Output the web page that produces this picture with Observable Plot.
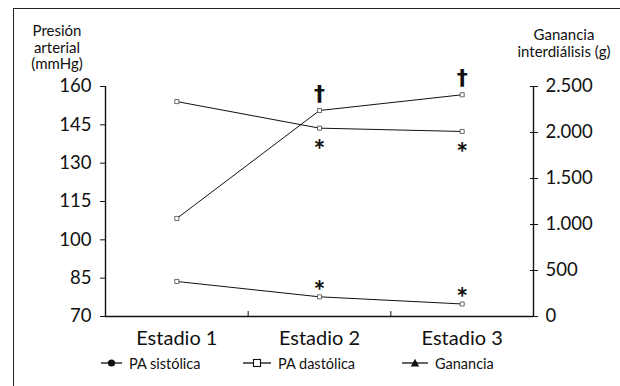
<!DOCTYPE html>
<html><head><meta charset="utf-8">
<script src="https://cdn.jsdelivr.net/npm/d3@7"></script>
<script src="https://cdn.jsdelivr.net/npm/@observablehq/plot@0.6"></script>
<style>
body{margin:0;background:#fff;font-family:Lato,"Open Sans",sans-serif;color:#111}
#wrap{position:relative;width:620px;height:386px;overflow:hidden}
#frame{position:absolute;left:13px;top:8px;width:620px;height:400px;border-top:1.5px solid #222;border-left:1.5px solid #222;box-sizing:border-box}
.ttl{position:absolute;font-size:15px;line-height:16.5px;text-align:center;white-space:nowrap}
#legend{position:absolute;left:0;top:352px;width:620px;height:22px;font-size:14.5px}
#legend .it{position:absolute;top:0;height:22px;display:flex;align-items:center;gap:7px}
#chart{position:absolute;left:0;top:0}
</style></head>
<body>
<div id="wrap">
  <div id="frame"></div>
  <div id="chart"></div>
  <div class="ttl" id="tl" style="left:0;width:114px;top:22px"></div>
  <div class="ttl" id="tr" style="left:504px;width:120px;top:26px"></div>
  <div id="legend"></div>
</div>
<script>
// ---- data ----
const categories = ["Estadio 1", "Estadio 2", "Estadio 3"];
const paSistolica = [154.1, 143.7, 142.4];
const paDiastolica = [83.7, 77.7, 74.9];
const ganancia = [1066, 2239, 2410];
const leftTicks = [70, 85, 100, 115, 130, 145, 160];
const rightTicks = [0, 500, 1000, 1500, 2000, 2500];
const daggerGanancia = ["", "†", "†"];
const starSistolica = ["", "*", "*"];
const starDiastolica = ["", "*", "*"];
const leftTitle = ["Presión", "arterial", "(mmHg)"];
const rightTitle = ["Ganancia", "interdiálisis (g)"];
const seriesNames = ["PA sistólica", "PA dastólica", "Ganancia"];

// ---- scales / helpers ----
const toLeft = d3.scaleLinear().domain([0, 2500]).range([70, 160]);
const fmt = d3.formatLocale({decimal: ",", thousands: ".", grouping: [3], currency: ["", ""]}).format(",");
const rows = categories.map((c, i) => ({
  x: i + 0.5, cat: c,
  sis: paSistolica[i], dia: paDiastolica[i], gan: toLeft(ganancia[i]),
  dag: daggerGanancia[i], ss: starSistolica[i], sd: starDiastolica[i]
}));
const centers = rows.map(d => d.x);
const bounds = categories.slice(1).map((c, i) => i + 1);
const ink = "#111";

const chart = Plot.plot({
  width: 620, height: 350,
  marginLeft: 105, marginRight: 87, marginTop: 86, marginBottom: 34,
  x: {domain: [0, 3], axis: null},
  y: {domain: [70, 160], axis: null},
  style: {fontFamily: "Lato, 'Open Sans', sans-serif", color: ink, background: "transparent", overflow: "visible"},
  marks: [
    // axis lines
    Plot.ruleX([0], {y1: 70, y2: 160, stroke: ink, strokeWidth: 1.4}),
    Plot.ruleX([3], {y1: 70, y2: 160, stroke: ink, strokeWidth: 1.4}),
    Plot.ruleY([70], {x1: 0, x2: 3, stroke: ink, strokeWidth: 1.4}),
    // left axis
    Plot.axisY({anchor: "left", ticks: leftTicks, tickSize: 5, tickPadding: 9, fontSize: 18.5, label: null, stroke: ink, fill: ink}),
    // right axis (crossing ticks + labels)
    Plot.axisY({anchor: "right", ticks: rightTicks.map(toLeft), tickSize: 8, dx: -4, fill: "none", label: null, stroke: ink}),
    Plot.axisY({anchor: "right", ticks: rightTicks.map(toLeft), tickSize: 0, tickPadding: 12, fontSize: 18.5, label: null, fill: ink,
      tickFormat: v => fmt(Math.round(toLeft.invert(v)))}),
    // x axis
    Plot.axisX({anchor: "bottom", ticks: bounds, tickSize: 5, dy: -5, fill: "none", label: null, stroke: ink}),
    Plot.axisX({anchor: "bottom", ticks: centers, tickSize: 0, tickPadding: 14, fontSize: 20, label: null, fill: ink,
      tickFormat: v => categories[Math.floor(v)]}),
    // lines
    Plot.line(rows, {x: "x", y: "sis", stroke: ink, strokeWidth: 1}),
    Plot.line(rows, {x: "x", y: "dia", stroke: ink, strokeWidth: 1}),
    Plot.line(rows, {x: "x", y: "gan", stroke: ink, strokeWidth: 1}),
    // point markers (small hollow squares)
    Plot.dot(rows, {x: "x", y: "sis", symbol: "square", r: 2.3, fill: "#fff", stroke: "#444", strokeWidth: 0.8}),
    Plot.dot(rows, {x: "x", y: "dia", symbol: "square", r: 2.3, fill: "#fff", stroke: "#444", strokeWidth: 0.8}),
    Plot.dot(rows, {x: "x", y: "gan", symbol: "square", r: 2.3, fill: "#fff", stroke: "#444", strokeWidth: 0.8}),
    // significance marks
    Plot.text(rows, {x: "x", y: "gan", text: "dag", fontSize: 22, fontWeight: "bold", dy: -17, fill: ink, fontFamily: "DejaVu Sans"}),
    Plot.text(rows, {x: "x", y: "sis", text: "ss", fontSize: 28, fontWeight: "bold", dy: 23, fill: ink, fontFamily: "Lato"}),
    Plot.text(rows, {x: "x", y: "dia", text: "sd", fontSize: 28, fontWeight: "bold", dy: -5, fill: ink, fontFamily: "Lato"})
  ]
});
document.getElementById("chart").append(chart);

document.getElementById("tl").innerHTML = leftTitle.join("<br>");
document.getElementById("tr").innerHTML = rightTitle.join("<br>");

const sym = [
  '<circle cx="50%" cy="6" r="3.6" fill="#111"/>',
  '<rect x="50%" y="2.5" width="7" height="7" transform="translate(-3.5,0)" fill="#fff" stroke="#111" stroke-width="1.1"/>',
  '<path d="M0 1.8 L4.2 9.4 L-4.2 9.4 Z" fill="#111"/>'
];
const legendLeft = [101, 243, 402];
const legendLine = [21, 28, 26];
document.getElementById("legend").innerHTML = seriesNames.map((n, i) => {
  const w = legendLine[i], c = w / 2;
  const s = i === 2 ? `<g transform="translate(${c},0)">${sym[i]}</g>` : sym[i];
  return `<div class="it" style="left:${legendLeft[i]}px"><svg width="${w}" height="12"><line x1="0" x2="${w}" y1="6" y2="6" stroke="#111" stroke-width="1.3"/>${s}</svg><span>${n}</span></div>`;
}).join("");
</script>
</body></html>
